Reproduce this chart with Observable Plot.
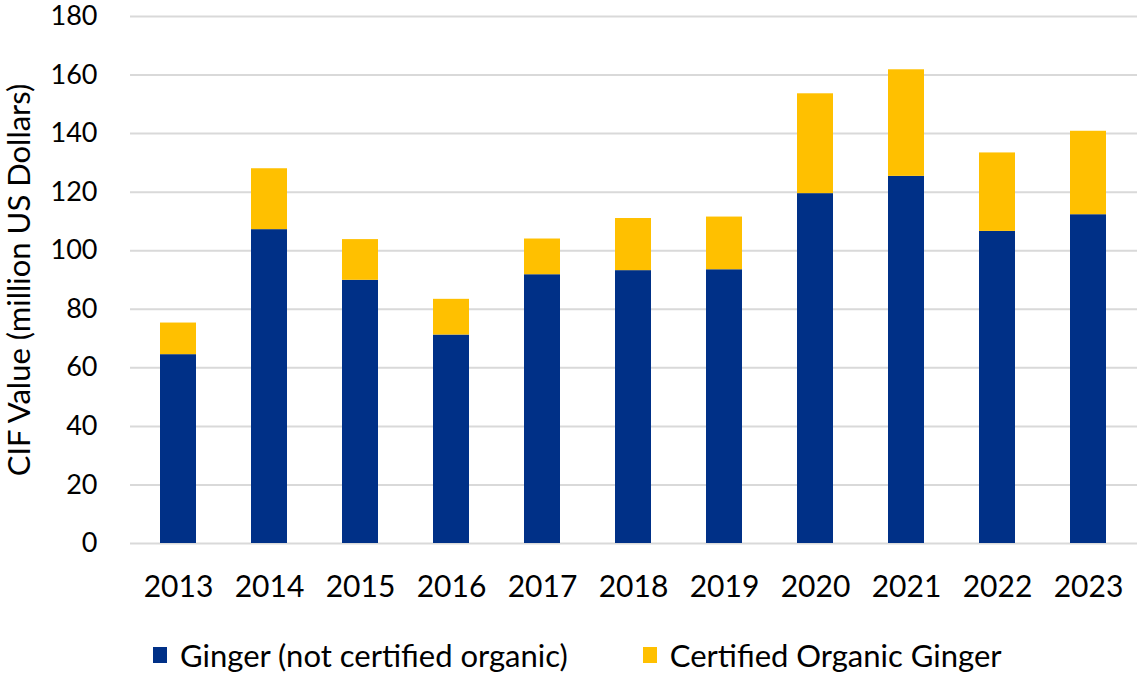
<!DOCTYPE html>
<html>
<head>
<meta charset="utf-8">
<script src="https://cdn.jsdelivr.net/npm/d3@7"></script>
<script src="https://cdn.jsdelivr.net/npm/@observablehq/plot@0.6"></script>
<style>
  body { margin: 0; background: #fff; font-family: Lato, "Open Sans", sans-serif; position: relative; width: 1137px; height: 677px; overflow: hidden; }
  #legend { position: absolute; left: 153px; top: 635px; display: flex; align-items: center; height: 40px; font-size: 31px; color: #000; white-space: nowrap; }
  .item { display: flex; align-items: center; }
  .sw { width: 14px; height: 16px; margin-right: 13px; }
</style>
</head>
<body>
<div id="chart"></div>
<div id="legend"></div>
<script>
const years = ["2013","2014","2015","2016","2017","2018","2019","2020","2021","2022","2023"];
const seriesNames = ["Ginger (not certified organic)", "Certified Organic Ginger"];
const conventional = [64.5, 107.2, 89.9, 71.2, 91.8, 93.2, 93.5, 119.5, 125.4, 106.6, 112.3];
const organic = [10.8, 20.8, 13.9, 12.2, 12.2, 17.8, 18.0, 34.1, 36.4, 26.8, 28.5];
const yTicks = [0, 20, 40, 60, 80, 100, 120, 140, 160, 180];
const colors = ["#003087", "#FFC000"];
const yLabel = "CIF Value (million US Dollars)";

const data = [];
years.forEach((y, i) => {
  data.push({year: y, series: seriesNames[0], value: conventional[i]});
  data.push({year: y, series: seriesNames[1], value: organic[i]});
});

const chart = Plot.plot({
  width: 1137,
  height: 610,
  marginLeft: 130,
  marginRight: 0,
  marginTop: 16,
  marginBottom: 67,
  style: {fontFamily: "Lato, 'Open Sans', sans-serif", fontSize: "27px", color: "#000", background: "#fff", overflow: "visible"},
  x: {domain: years, paddingInner: 0.6, paddingOuter: 0.3, label: null},
  y: {domain: [0, 180], label: null},
  color: {domain: seriesNames, range: colors},
  marks: [
    Plot.ruleY(yTicks, {stroke: "#d9d9d9", strokeWidth: 2}),
    Plot.barY(data, {x: "year", y: "value", fill: "series"}),
    Plot.axisY({ticks: yTicks, tickSize: 0, tickPadding: 33, label: null, fontSize: 27}),
    Plot.axisX({tickSize: 0, tickPadding: 32, label: null, fontSize: 30}),
    Plot.text([yLabel], {frameAnchor: "left", dx: -110, rotate: -90, fontSize: 31, textAnchor: "middle", text: d => d, fill: "#000"})
  ]
});
document.getElementById("chart").appendChild(chart);

const legend = document.getElementById("legend");
seriesNames.forEach((name, i) => {
  const item = document.createElement("div");
  item.className = "item";
  if (i > 0) item.style.marginLeft = "75px";
  const sw = document.createElement("div");
  sw.className = "sw";
  sw.style.background = colors[i];
  const t = document.createElement("span");
  t.textContent = name;
  item.appendChild(sw);
  item.appendChild(t);
  legend.appendChild(item);
});
</script>
</body>
</html>
